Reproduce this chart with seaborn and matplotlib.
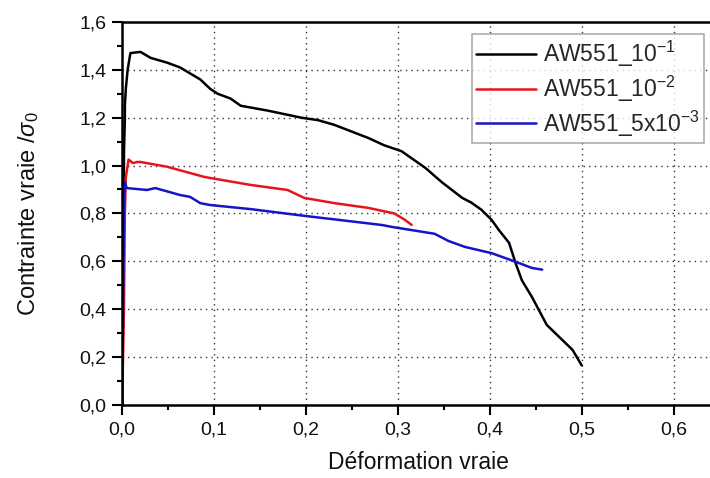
import matplotlib
matplotlib.use("Agg")
import matplotlib.pyplot as plt
import seaborn as sns
import pandas as pd
from matplotlib.ticker import MultipleLocator

# ---- data ----
x_1 = [0.0, 0.001, 0.002, 0.002, 0.003, 0.003, 0.004, 0.006, 0.009, 0.020, 0.031, 0.049, 0.063,
       0.085, 0.096, 0.104, 0.118, 0.129, 0.158, 0.195, 0.213, 0.231, 0.268, 0.285,
       0.304, 0.330, 0.348, 0.370, 0.380, 0.391, 0.402, 0.410, 0.421, 0.428, 0.435,
       0.446, 0.462, 0.490, 0.500]
y_1 = [0.0, 0.35, 0.80, 1.05, 1.20, 1.25, 1.32, 1.40, 1.47, 1.475, 1.45, 1.43, 1.41,
       1.36, 1.32, 1.30, 1.28, 1.25, 1.23, 1.20, 1.19, 1.17, 1.115, 1.085,
       1.06, 0.99, 0.93, 0.865, 0.845, 0.815, 0.773, 0.73, 0.677, 0.593, 0.52,
       0.45, 0.334, 0.23, 0.165]

x_2 = [0.0, 0.002, 0.003, 0.004, 0.007, 0.012, 0.016, 0.020, 0.049, 0.089, 0.096, 0.140,
       0.180, 0.198, 0.231, 0.268, 0.296, 0.307, 0.315]
y_2 = [0.0, 0.40, 0.80, 0.95, 1.025, 1.01, 1.015, 1.015, 0.995, 0.953, 0.948, 0.919,
       0.898, 0.865, 0.843, 0.823, 0.800, 0.775, 0.752]

x_3 = [0.0, 0.001, 0.002, 0.003, 0.005, 0.027, 0.036, 0.063, 0.074, 0.085, 0.096, 0.140,
       0.198, 0.282, 0.296, 0.340, 0.355, 0.373, 0.402, 0.428, 0.446, 0.457]
y_3 = [0.0, 0.40, 0.80, 0.93, 0.906, 0.898, 0.906, 0.877, 0.869, 0.843, 0.835, 0.818,
       0.790, 0.752, 0.742, 0.715, 0.685, 0.660, 0.634, 0.598, 0.572, 0.565]

series_labels = ["AW551_10$^{-1}$", "AW551_10$^{-2}$", "AW551_5x10$^{-3}$"]
series_colors = ["#000000", "#e8141c", "#1414c8"]

x_ticks = [0.0, 0.1, 0.2, 0.3, 0.4, 0.5, 0.6]
x_tick_labels = ["0,0", "0,1", "0,2", "0,3", "0,4", "0,5", "0,6"]
y_ticks = [0.0, 0.2, 0.4, 0.6, 0.8, 1.0, 1.2, 1.4, 1.6]
y_tick_labels = ["0,0", "0,2", "0,4", "0,6", "0,8", "1,0", "1,2", "1,4", "1,6"]

frames = []
for xs, ys, lab in zip([x_1, x_2, x_3], [y_1, y_2, y_3], series_labels):
    frames.append(pd.DataFrame({"x": xs, "y": ys, "serie": lab}))
df = pd.concat(frames, ignore_index=True)

sns.set_style("white")
plt.rcParams["font.family"] = ["Liberation Sans", "DejaVu Sans"]
plt.rcParams["mathtext.fontset"] = "custom"
plt.rcParams["mathtext.rm"] = "Liberation Sans"
plt.rcParams["mathtext.it"] = "Liberation Sans:italic"
plt.rcParams["mathtext.sf"] = "Liberation Sans"

fig = plt.figure(figsize=(7.10, 4.78), dpi=100)
ax = fig.add_axes([0.172, 0.153, 0.835, 0.801])

sns.lineplot(data=df, x="x", y="y", hue="serie", palette=series_colors,
             hue_order=series_labels, sort=False, estimator=None, units="serie",
             linewidth=1.8, ax=ax, legend=True)

ax.set_xlim(0, 0.645)
ax.set_ylim(0, 1.6)
ax.set_xticks(x_ticks)
ax.set_xticklabels(x_tick_labels)
ax.set_yticks(y_ticks)
ax.set_yticklabels(y_tick_labels)
ax.xaxis.set_minor_locator(MultipleLocator(0.05))
ax.yaxis.set_minor_locator(MultipleLocator(0.1))
ax.tick_params(axis="both", which="both", bottom=True, left=True, top=False, right=False)
ax.tick_params(axis="both", which="major", direction="out", length=7.2, width=1.5,
               labelsize=14, color="black", labelcolor="#111111")
ax.tick_params(axis="both", which="minor", direction="out", length=3.6, width=1.5,
               color="black")
ax.tick_params(axis="x", pad=5)
ax.tick_params(axis="y", pad=4)

ax.grid(True, which="major", linestyle=(0, (1, 3)), color="#333333", linewidth=1.0)

for side in ["left", "bottom", "top"]:
    ax.spines[side].set_visible(True)
    ax.spines[side].set_color("black")
    ax.spines[side].set_linewidth(1.8)
ax.spines["right"].set_visible(False)

ax.set_xlabel("Déformation vraie", fontsize=16.5, labelpad=9, color="#111111")
ax.set_ylabel("Contrainte vraie /$\\sigma_0$", fontsize=17, labelpad=28, color="#111111")

leg = ax.legend(loc="upper right", bbox_to_anchor=(0.99, 0.98), fontsize=16.5,
                frameon=True, fancybox=False, edgecolor="#999999",
                handlelength=2.6, handletextpad=0.3, borderpad=0.2, labelspacing=0.2,
                borderaxespad=0.2)
leg.get_frame().set_linewidth(1.2)

fig.savefig("out.png", dpi=100, facecolor="white")
